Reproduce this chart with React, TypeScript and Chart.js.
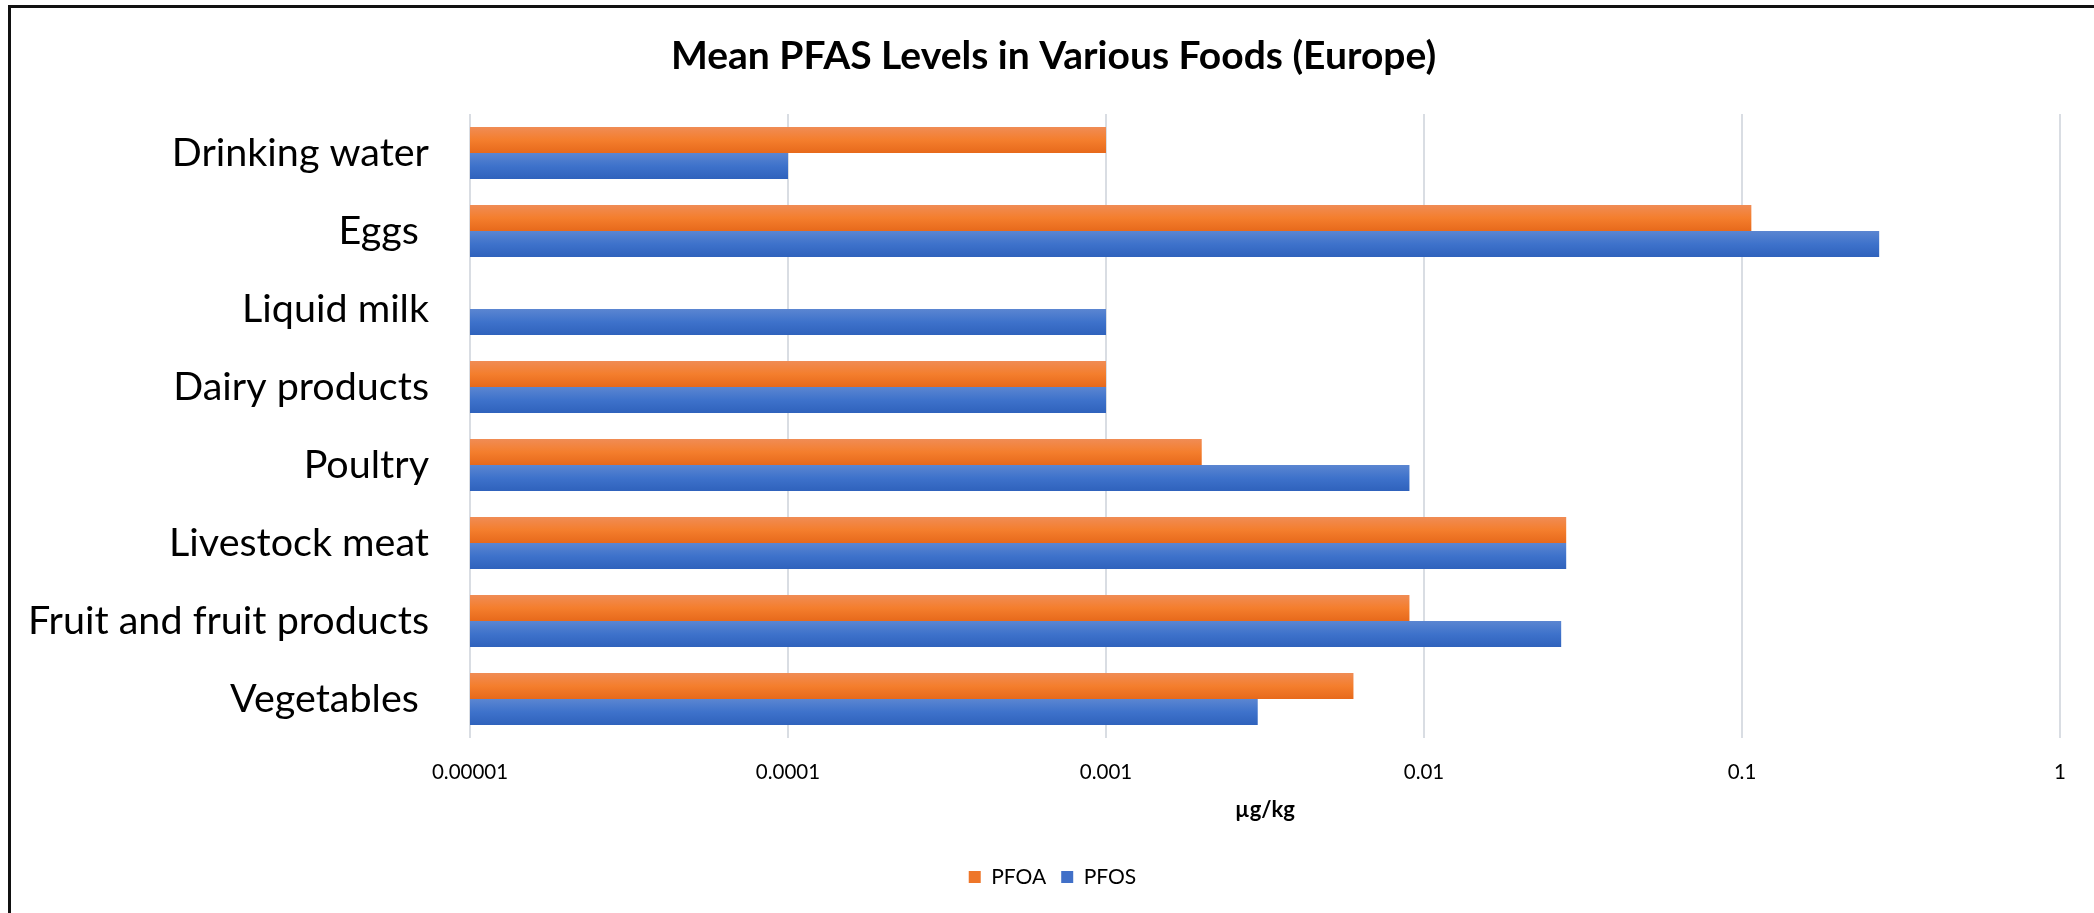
import React, { useEffect, useRef } from "react";
import { Chart, registerables } from "chart.js";

Chart.register(...registerables);

const categories = [
  "Drinking water",
  "Eggs ",
  "Liquid milk",
  "Dairy products",
  "Poultry",
  "Livestock meat",
  "Fruit and fruit products",
  "Vegetables ",
];
const pfoaValues: (number | null)[] = [0.001, 0.107, null, 0.001, 0.002, 0.028, 0.009, 0.006];
const pfosValues: (number | null)[] = [0.0001, 0.27, 0.001, 0.001, 0.009, 0.028, 0.027, 0.003];
const tickValues = [0.00001, 0.0001, 0.001, 0.01, 0.1, 1];
const tickLabels = ["0.00001", "0.0001", "0.001", "0.01", "0.1", "1"];
const seriesNames = ["PFOA", "PFOS"];
const chartTitle = "Mean PFAS Levels in Various Foods (Europe)";
const axisTitle = "µg/kg";

const solidColors = ["#EE7629", "#4170C8"];
const gradientStops = [
  ["#F08C55", "#F47E2D", "#E7691B"],
  ["#5B86D1", "#3E72CB", "#2F62BC"],
];

const gradientPlugin = {
  id: "barGradient",
  afterLayout(chart: any) {
    if (chart.titleBlock) chart.titleBlock.left = 47;
    if (chart.legend) chart.legend.left = 45;
  },
  beforeDatasetsDraw(chart: any) {
    const ctx = chart.ctx;
    chart.data.datasets.forEach((_ds: any, di: number) => {
      const meta = chart.getDatasetMeta(di);
      const stops = gradientStops[di];
      meta.data.forEach((el: any) => {
        const { y, height } = el.getProps(["y", "height"], true);
        if (!isFinite(y) || !isFinite(height)) return;
        const top = y - height / 2;
        const bottom = y + height / 2;
        const g = ctx.createLinearGradient(0, top, 0, bottom);
        g.addColorStop(0, stops[0]);
        g.addColorStop(0.5, stops[1]);
        g.addColorStop(1, stops[2]);
        el.options = Object.assign({}, el.options, { backgroundColor: g });
      });
    });
  },
};

export default function App() {
  const canvasRef = useRef<HTMLCanvasElement | null>(null);

  useEffect(() => {
    document.body.style.margin = "0";
    document.documentElement.style.overflow = "hidden";
    const canvas = canvasRef.current;
    if (!canvas) return;
    const chart = new Chart(canvas, {
      type: "bar",
      data: {
        labels: categories,
        datasets: [
          {
            label: seriesNames[0],
            data: pfoaValues,
            backgroundColor: solidColors[0],
            borderWidth: 0,
            categoryPercentage: 0.667,
            barPercentage: 1,
          },
          {
            label: seriesNames[1],
            data: pfosValues,
            backgroundColor: solidColors[1],
            borderWidth: 0,
            categoryPercentage: 0.667,
            barPercentage: 1,
          },
        ],
      },
      options: {
        indexAxis: "y",
        responsive: false,
        animation: false,
        maintainAspectRatio: false,
        layout: { padding: { left: 20, right: 34, top: 0, bottom: 15.5 } },
        font: { family: "Lato" },
        plugins: {
          title: {
            display: true,
            text: chartTitle,
            color: "#000000",
            font: { family: "Lato", size: 39, weight: "bold", lineHeight: 1.2 },
            padding: { top: 32.6, bottom: 34.6 },
          },
          legend: {
            display: true,
            position: "bottom",
            labels: {
              color: "#000000",
              font: { family: "Lato", size: 21 },
              boxWidth: 12,
              boxHeight: 12,
              padding: 15,
            },
          },
          tooltip: { enabled: false },
        },
        scales: {
          x: {
            type: "logarithmic",
            min: 0.00001,
            max: 1,
            afterBuildTicks: (scale: any) => {
              scale.ticks = tickValues.map((v) => ({ value: v }));
            },
            afterFit: (scale: any) => {
              scale.height = 113.5;
            },
            ticks: {
              callback: (_v: any, i: number) => tickLabels[i],
              color: "#000000",
              font: { family: "Lato", size: 20.5, lineHeight: 1.2 },
              padding: 22,
              maxRotation: 0,
              autoSkip: false,
            },
            grid: { color: "#D9DDE3", lineWidth: 2, drawTicks: false },
            border: { display: false },
            title: {
              display: true,
              text: axisTitle,
              color: "#000000",
              font: { family: "Lato", size: 22, weight: "bold", lineHeight: 1.2 },
              padding: { top: 0, bottom: 28.3 },
            },
          },
          y: {
            type: "category",
            afterFit: (scale: any) => {
              scale.width = 470 - 20;
            },
            ticks: {
              color: "#000000",
              font: { family: "Lato", size: 39.5 },
              padding: 41,
              autoSkip: false,
            },
            grid: { display: false, drawTicks: false },
            border: { display: false },
          },
        },
      },
      plugins: [gradientPlugin],
    });
    return () => chart.destroy();
  }, []);

  return (
    <div style={{ position: "fixed", left: 0, top: 0, width: 2094, height: 913, overflow: "hidden", background: "#ffffff" }}>
      <canvas ref={canvasRef} width={2094} height={913} style={{ position: "absolute", left: 0, top: 0, width: 2094, height: 913, display: "block" }} />
      <div style={{ position: "absolute", left: 8, top: 5, width: 3, height: 908, background: "#111111" }} />
      <div style={{ position: "absolute", left: 8, top: 5, width: 2086, height: 3, background: "#111111" }} />
    </div>
  );
}
